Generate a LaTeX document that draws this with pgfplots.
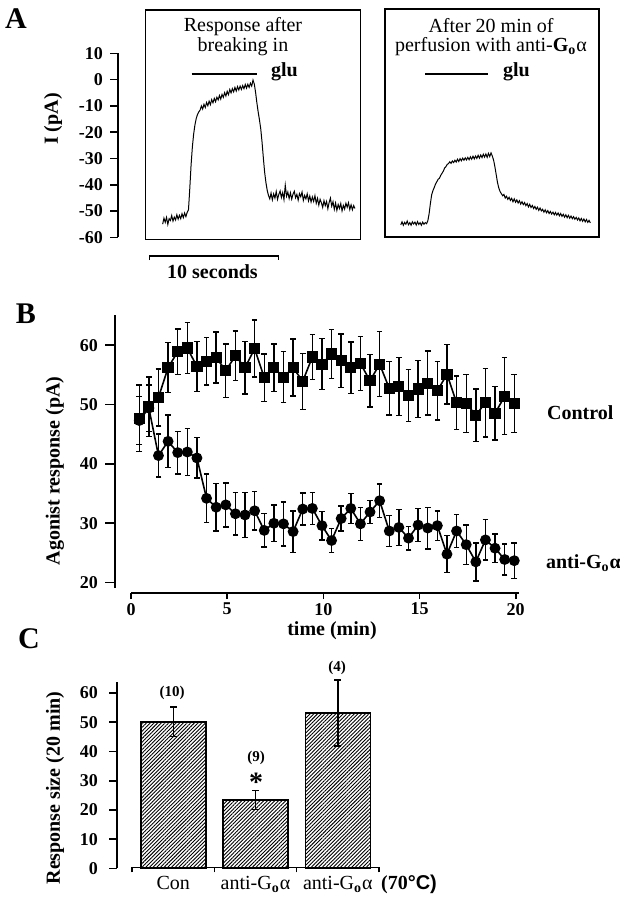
\documentclass[border=0pt]{standalone}
\usepackage{fontspec}
\setmainfont{Liberation Serif}
\setsansfont{Liberation Sans}
\usepackage{pgfplots}
\pgfplotsset{compat=1.18}
\usepackage{pgfplotstable}
\usetikzlibrary{patterns.meta}

\newcommand\Go{G\textsubscript{\textbf{o}}α}
\newcommand\tlab{\fontsize{9}{10}\selectfont\bfseries}
\newcommand\alab{\fontsize{10}{12}\selectfont\bfseries}
\newcommand\ttl{\fontsize{10}{12}\selectfont}

\pgfplotsset{
  panel/.style={scale only axis, clip=false,
    axis line style={line width=0.8pt},
    tick style={line width=0.8pt, black},
    tick align=outside,
    tick label style={font=\tlab},
    /pgf/number format/assume math mode=true},
}

% panel B: time (min), mean, s.e.m.
\pgfplotstableread{
x y e
0.43 47.7 5.6
0.93 49.6 5.0
1.43 51.2 4.8
1.93 56.2 4.2
2.43 58.9 3.8
2.93 59.5 4.3
3.43 56.4 4.2
3.93 57.3 4.0
4.43 57.9 4.3
4.93 55.7 4.5
5.43 58.2 4.2
5.93 56.2 4.4
6.43 59.4 4.8
6.93 54.5 4.0
7.43 56.2 4.0
7.93 54.6 4.3
8.43 56.2 4.8
8.93 53.9 4.7
9.43 58.0 3.8
9.93 56.8 4.3
10.43 58.5 4.1
10.93 57.4 4.5
11.43 56.2 4.3
11.93 56.9 4.5
12.43 54.0 4.4
12.93 56.8 5.5
13.43 52.7 4.5
13.93 53.0 4.9
14.43 51.5 4.4
14.93 52.6 4.8
15.43 53.6 5.4
15.93 52.3 4.9
16.43 55.1 5.0
16.93 50.3 4.5
17.43 50.2 4.9
17.93 48.2 4.4
18.43 50.3 5.8
18.93 48.5 4.5
19.43 51.4 6.5
19.93 50.2 4.9
}\control

\pgfplotstableread{
x y e
0.43 47.3 4.0
0.93 49.4 3.9
1.43 41.4 3.6
1.93 43.8 4.4
2.43 41.9 3.6
2.93 42.0 4.0
3.43 41.0 3.4
3.93 34.2 4.1
4.43 32.7 4.0
4.93 33.1 3.7
5.43 31.6 3.6
5.93 31.4 3.8
6.43 32.1 3.2
6.93 28.8 2.8
7.43 30.0 3.1
7.93 29.9 3.7
8.43 28.6 3.5
8.93 32.4 2.7
9.43 32.5 2.7
9.93 29.6 2.4
10.43 27.1 2.0
10.93 30.8 2.1
11.43 32.5 2.5
11.93 29.9 2.8
12.43 31.9 1.9
12.93 33.8 2.8
13.43 28.7 2.6
13.93 29.3 3.0
14.43 27.5 2.0
14.93 29.7 2.8
15.43 29.2 3.5
15.93 29.6 2.5
16.43 24.8 3.1
16.93 28.7 2.8
17.43 26.4 3.3
17.93 23.5 3.2
18.43 27.2 3.4
18.93 25.8 2.4
19.43 23.9 2.6
19.93 23.7 3.0
}\antigo

\begin{document}
\begin{tikzpicture}[x=0.5pt,y=-0.5pt]
\useasboundingbox (0,0) rectangle (620,899);

%% ---------------- panel A ----------------
\node[font=\fontsize{15}{16}\selectfont\bfseries] at (16,19) {A};
\node[rotate=90, font=\alab] at (53,119) {I (pA)};

% current scale
\begin{axis}[panel, at={(58.9pt,-118.65pt)}, anchor=south west,
  width=1pt, height=92pt, xmin=0, xmax=1, ymin=-60, ymax=10,
  axis y line*=left, axis x line=none,
  ytick={-60,-50,...,10}, major tick length=3.9pt]
\end{axis}

% trace after breaking in (t in s, I in pA)
\begin{axis}[panel, at={(72.75pt,-119.65pt)}, anchor=south west,
  width=107.5pt, height=114.65pt,
  xmin=-1.33, xmax=15.33, ymin=-61.3, ymax=26.55, ticks=none]
\addplot[black, line width=0.5pt] coordinates {
(0.0,-55.5)(0.1,-53.2)(0.2,-54.8)(0.3,-52.9)(0.4,-55.6)(0.5,-53.4)(0.6,-54.1)(0.7,-52.2)(0.8,-54.3)(0.9,-52.8)
(1.0,-53.9)(1.1,-51.9)(1.2,-53.6)(1.3,-52.1)(1.4,-53.4)(1.5,-51.5)(1.6,-53.0)(1.7,-51.2)(1.8,-52.6)(1.9,-51.0)
(2.0,-50.0)(2.1,-42.0)(2.2,-33.0)(2.3,-26.0)(2.4,-21.0)(2.5,-17.5)(2.6,-15.0)(2.7,-13.5)(2.8,-12.5)(2.9,-11.8)
(3.0,-10.2)(3.1,-11.4)(3.2,-9.6)(3.3,-10.8)(3.4,-8.9)(3.5,-10.1)(3.6,-8.4)(3.7,-9.7)(3.8,-7.8)(3.9,-9.0)
(4.0,-7.3)(4.1,-8.6)(4.2,-6.9)(4.3,-7.9)(4.4,-6.2)(4.5,-7.6)(4.6,-5.8)(4.7,-6.9)(4.8,-5.1)(4.9,-6.4)
(5.0,-4.6)(5.1,-5.9)(5.2,-3.9)(5.3,-5.2)(5.4,-3.6)(5.5,-4.8)(5.6,-3.1)(5.7,-4.5)(5.8,-2.8)(5.9,-4.1)
(6.0,-2.6)(6.1,-3.9)(6.2,-2.4)(6.3,-3.6)(6.4,-2.0)(6.5,-3.4)(6.6,-1.9)(6.7,-3.1)(6.8,-1.5)(6.9,-2.6)
(7.0,-0.3)(7.1,-1.8)(7.2,-5.0)(7.3,-9.0)(7.4,-12.5)(7.5,-15.5)(7.6,-19.0)(7.7,-24.0)(7.8,-30.0)(7.9,-35.5)
(8.0,-39.5)(8.1,-42.5)(8.2,-44.5)(8.3,-45.8)(8.4,-43.6)(8.5,-46.2)(8.6,-43.9)(8.7,-45.5)(8.8,-43.0)(8.9,-46.0)
(9.0,-44.1)(9.1,-42.8)(9.2,-45.3)(9.3,-43.4)(9.4,-46.1)(9.5,-40.6)(9.6,-44.8)(9.7,-43.2)(9.8,-45.7)(9.9,-43.5)
(10.0,-45.9)(10.1,-44.0)(10.2,-42.9)(10.3,-45.4)(10.4,-44.1)(10.5,-46.3)(10.6,-43.8)(10.7,-45.0)(10.8,-43.2)(10.9,-46.4)
(11.0,-44.5)(11.1,-45.8)(11.2,-43.9)(11.3,-46.6)(11.4,-44.7)(11.5,-47.0)(11.6,-45.1)(11.7,-46.8)(11.8,-44.6)(11.9,-47.5)
(12.0,-45.6)(12.1,-48.2)(12.2,-46.0)(12.3,-47.3)(12.4,-49.1)(12.5,-46.5)(12.6,-48.4)(12.7,-46.8)(12.8,-49.6)(12.9,-47.2)
(13.0,-45.5)(13.1,-48.6)(13.2,-46.9)(13.3,-49.8)(13.4,-47.4)(13.5,-50.2)(13.6,-48.0)(13.7,-49.5)(13.8,-47.6)(13.9,-50.4)
(14.0,-48.3)(14.1,-49.7)(14.2,-47.5)(14.3,-49.0)(14.4,-47.3)(14.5,-49.9)(14.6,-48.1)(14.7,-50.0)(14.8,-48.4)(14.9,-49.5)
};
\end{axis}
\node[font=\ttl] at (243,27) {Response after};
\node[font=\ttl] at (243,47) {breaking in};
\draw[line width=0.8pt] (191.7,74) -- (256.7,74);
\node[font=\alab, anchor=west] at (264,72) {glu};

% trace after 20 min of anti-Go alpha
\begin{axis}[panel, at={(192.5pt,-118.5pt)}, anchor=south west,
  width=107pt, height=113.85pt,
  xmin=-1.22, xmax=15.37, ymin=-60.4, ymax=26.8, ticks=none]
\addplot[black, line width=0.5pt] coordinates {
(0.0,-55.8)(0.1,-54.6)(0.2,-55.9)(0.3,-54.8)(0.4,-55.5)(0.5,-54.3)(0.6,-55.7)(0.7,-54.9)(0.8,-55.9)(0.9,-54.6)
(1.0,-55.4)(1.1,-54.7)(1.2,-55.8)(1.3,-54.5)(1.4,-55.6)(1.5,-54.9)(1.6,-55.9)(1.7,-54.7)(1.8,-55.5)(1.9,-54.9)
(2.0,-55.3)(2.1,-54.2)(2.2,-51.5)(2.3,-47.5)(2.4,-44.2)(2.5,-42.6)(2.6,-41.4)(2.7,-40.1)(2.8,-39.2)(2.9,-38.3)
(3.0,-37.9)(3.1,-36.8)(3.2,-36.0)(3.3,-35.2)(3.4,-34.0)(3.5,-33.5)(3.6,-32.6)(3.7,-32.3)(3.8,-31.6)(3.9,-32.2)
(4.0,-31.3)(4.1,-31.9)(4.2,-31.0)(4.3,-31.7)(4.4,-30.6)(4.5,-31.5)(4.6,-30.4)(4.7,-31.2)(4.8,-30.2)(4.9,-31.0)
(5.0,-30.1)(5.1,-30.9)(5.2,-29.9)(5.3,-30.8)(5.4,-29.7)(5.5,-30.6)(5.6,-29.5)(5.7,-30.5)(5.8,-29.4)(5.9,-30.3)
(6.0,-29.1)(6.1,-30.2)(6.2,-29.0)(6.3,-30.0)(6.4,-28.7)(6.5,-29.8)(6.6,-28.6)(6.7,-29.9)(6.8,-28.4)(6.9,-29.6)
(7.0,-28.2)(7.1,-29.4)(7.2,-31.0)(7.3,-33.5)(7.4,-36.5)(7.5,-39.5)(7.6,-41.6)(7.7,-43.0)(7.8,-43.8)(7.9,-44.6)
(8.0,-44.1)(8.1,-45.5)(8.2,-44.8)(8.3,-46.0)(8.4,-45.2)(8.5,-46.4)(8.6,-45.6)(8.7,-46.9)(8.8,-45.8)(8.9,-47.1)
(9.0,-46.2)(9.1,-47.4)(9.2,-46.5)(9.3,-47.8)(9.4,-46.9)(9.5,-48.0)(9.6,-47.2)(9.7,-48.4)(9.8,-47.6)(9.9,-48.9)
(10.0,-47.9)(10.1,-49.1)(10.2,-48.3)(10.3,-49.5)(10.4,-48.7)(10.5,-49.8)(10.6,-49.0)(10.7,-50.2)(10.8,-49.3)(10.9,-50.4)
(11.0,-49.8)(11.1,-50.9)(11.2,-50.0)(11.3,-51.1)(11.4,-50.3)(11.5,-51.4)(11.6,-50.6)(11.7,-51.6)(11.8,-50.9)(11.9,-51.9)
(12.0,-51.0)(12.1,-52.0)(12.2,-51.2)(12.3,-52.3)(12.4,-51.4)(12.5,-52.5)(12.6,-51.7)(12.7,-52.8)(12.8,-51.9)(12.9,-53.0)
(13.0,-52.1)(13.1,-53.2)(13.2,-52.4)(13.3,-53.4)(13.4,-52.6)(13.5,-53.6)(13.6,-52.9)(13.7,-53.9)(13.8,-53.1)(13.9,-54.2)
(14.0,-53.3)(14.1,-54.4)(14.2,-53.5)(14.3,-54.6)(14.4,-53.7)(14.5,-54.8)(14.6,-54.0)(14.7,-55.0)
};
\end{axis}
\node[font=\ttl] at (491,26) {After 20 min of};
\node[font=\ttl] at (491,47) {perfusion with anti-\textbf{G}\textsubscript{\textbf{o}}α};
\draw[line width=0.8pt] (425,74) -- (488.3,74);
\node[font=\alab, anchor=west] at (496,72) {glu};

% time scale bar
\draw[line width=0.8pt] (149.3,260) -- (149.3,256) -- (278.3,256) -- (278.3,260);
\node[font=\alab] at (212.5,271.7) {10 seconds};

%% ---------------- panel B ----------------
\node[font=\fontsize{15}{16}\selectfont\bfseries] at (26,314) {B};
\node[rotate=90, font=\alab] at (55,471) {Agonist response (pA)};

\begin{axis}[panel, at={(57.5pt,-294pt)}, anchor=south west,
  width=203.2pt, height=136.5pt,
  xmin=-0.83, xmax=20.3, ymin=19.1, ymax=65.07,
  axis y line*=left, axis x line=none,
  ytick={20,30,...,60}, major tick length=5pt]
\addplot[black, line width=0.8pt, mark=square*, mark size=2.4pt,
  error bars/.cd, y dir=both, y explicit,
  error bar style={line width=0.7pt, black},
  error mark options={rotate=90, mark size=1.4pt, line width=0.7pt, black}]
  table[x=x, y=y, y error=e] {\control};
\addplot[black, line width=0.8pt, mark=*, mark size=2.3pt,
  error bars/.cd, y dir=both, y explicit,
  error bar style={line width=0.7pt, black},
  error mark options={rotate=90, mark size=1.4pt, line width=0.7pt, black}]
  table[x=x, y=y, y error=e] {\antigo};
\end{axis}

\begin{axis}[panel, at={(65.5pt,-296.5pt)}, anchor=south west,
  width=194pt, height=1pt,
  xmin=0, xmax=20.17, ymin=0, ymax=1,
  axis x line*=bottom, axis y line=none,
  xtick={0,5,...,20}, major tick length=3pt,
  xticklabel style={yshift=1.5pt}]
\end{axis}
\node[font=\alab] at (332,631) {time (min)};
\node[font=\alab, anchor=west] at (540,413) {Control};
\node[font=\alab, anchor=west] at (539,563) {anti-G\textsubscript{o}α};

%% ---------------- panel C ----------------
\node[font=\fontsize{15}{16}\selectfont\bfseries] at (29,639) {C};
\node[rotate=90, font=\alab] at (55,788) {Response size (20 min)};

\begin{axis}[panel, at={(58.5pt,-434.15pt)}, anchor=south west,
  width=131pt, height=93.15pt,
  xmin=-0.687, xmax=2.5, ymin=0, ymax=63.8,
  axis y line*=left, axis x line=none,
  ytick={0,10,...,60}, major tick length=4pt,
  yticklabel style={xshift=-2pt}]
\addplot[ybar, bar width=32.5pt, draw=black, line width=0.8pt,
  pattern={Lines[angle=45, distance=1.3pt, line width=0.45pt]},
  error bars/.cd, y dir=both, y explicit,
  error bar style={line width=0.8pt, black},
  error mark options={rotate=90, mark size=1.7pt, line width=0.8pt, black}]
  coordinates {(0,50.2) +- (0,5.0) (1,23.4) +- (0,3.2) (2,53.1) +- (0,11.3)};
\end{axis}

\begin{axis}[panel, at={(66pt,-433.65pt)}, anchor=south west,
  width=123.5pt, height=1pt,
  xmin=-0.5, xmax=2.5, ymin=0, ymax=1,
  axis x line*=bottom, axis y line=none,
  xtick={-0.5,0.5,1.5,2.5}, xticklabels={}, major tick length=2.5pt,
  extra x ticks={0,1,2},
  extra x tick labels={Con, anti-\Go, anti-\Go},
  extra x tick style={major tick length=0pt,
    tick label style={font=\ttl\mdseries, yshift=-1pt}}]
\end{axis}
\node[font=\ttl] at (409,884) {\textbf{(70}\textsf{\bfseries\textdegree C)}};

\node[font=\fontsize{7.5}{9}\selectfont\bfseries] at (172,693) {(10)};
\node[font=\fontsize{7.5}{9}\selectfont\bfseries] at (256,758) {(9)};
\node[font=\fontsize{14}{14}\selectfont\bfseries] at (256,782) {*};
\node[font=\fontsize{7.5}{9}\selectfont\bfseries] at (337,668) {(4)};

\end{tikzpicture}
\end{document}
